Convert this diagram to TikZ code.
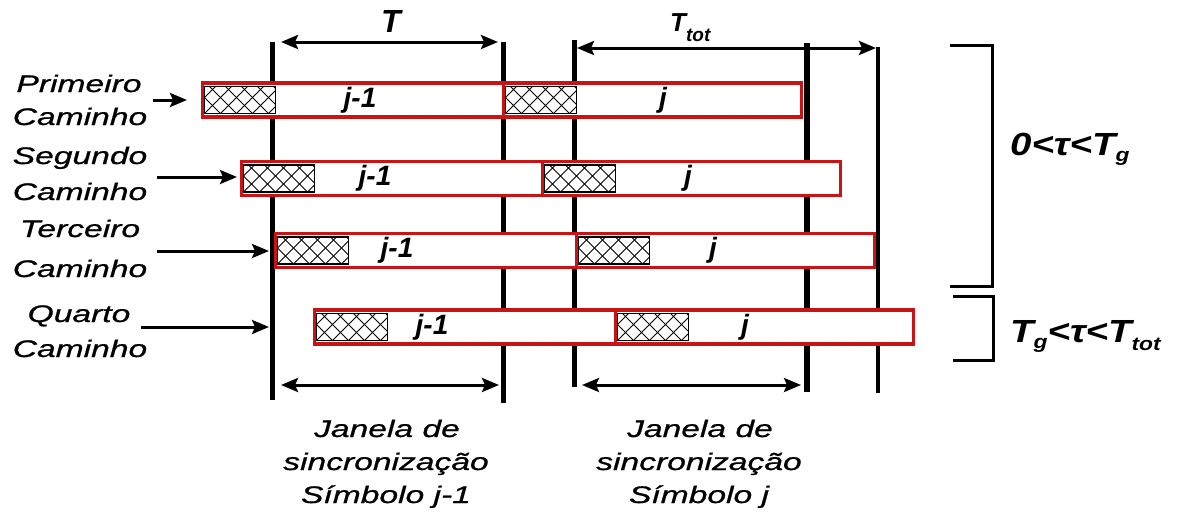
\documentclass[tikz,border=0pt]{standalone}
\usepackage{fontspec}
\setmainfont{Liberation Sans}
\newfontfamily\widesf[FakeStretch=1.4,FakeBold=0.8]{Liberation Sans}
\newfontfamily\labsf[FakeStretch=1.2]{Liberation Sans}
\usetikzlibrary{arrows.meta}
\definecolor{symred}{RGB}{200,20,20}
\newcommand{\subtx}[2][7pt]{\raisebox{-#1}{\fontsize{19}{19}\selectfont #2}}
\tikzset{
  vline/.style={line width=5pt},
  sym/.style={draw=symred, line width=3.2pt, fill=white, minimum height=34pt,
    inner sep=0pt, outer sep=0pt, anchor=west},
  hatchbox/.style={draw=black, line width=1.1pt, minimum width=71pt, minimum height=27pt,
    inner sep=0pt, outer sep=0pt, anchor=west, fill=white,
    path picture={
      \foreach \k in {-3,...,8} {
        \draw[line width=1pt] ([xshift=\k*16pt]path picture bounding box.south west) -- ++(45pt,45pt);
        \draw[line width=1pt] ([xshift=\k*16pt]path picture bounding box.south west) -- ++(-45pt,45pt);
      }}},
  tip/.tip={Stealth[length=17pt,width=14pt,inset=3pt]},
  arr/.style={line width=3pt, -tip},
  darr/.style={line width=3pt, tip-tip},
  brk/.style={line width=3pt},
  lab/.style={font=\widesf\itshape\fontsize{24}{28}\selectfont, anchor=base, inner sep=0pt},
  jlab/.style={font=\bfseries\itshape\fontsize{28}{28}\selectfont, inner sep=0pt},
  tlab/.style={font=\bfseries\itshape, inner sep=0pt, anchor=base west},
  rlab/.style={font=\labsf\bfseries\itshape\fontsize{32}{32}\selectfont, anchor=base west, inner sep=0pt},
}
\begin{document}
\begin{tikzpicture}[x=1pt,y=-1pt]
\useasboundingbox[fill=white] (0,0) rectangle (1178,523);

% vertical reference lines
\draw[vline] (272,42) -- (272,400);
\draw[vline] (503,42) -- (503,403);
\draw[vline] (574,40) -- (574,387);
\draw[vline, line width=6pt] (807,43) -- (807,392);
\draw[vline, line width=3.5pt] (878,47) -- (878,393);

% symbol rows
\foreach \n/\x/\y/\la/\lb in {1/202.5/100/360/663, 2/241.5/178.5/375/688, 3/275.5/250.5/397/713, 4/314.5/327/432/745} {
  \node[sym, minimum width=301pt] (a\n) at (\x,\y) {};
  \node[sym, minimum width=298pt] (b\n) at (a\n.east) {};
  \node[hatchbox] (ha\n) at ([xshift=2pt]a\n.west) {};
  \node[hatchbox] (hb\n) at ([xshift=2pt]b\n.west) {};
  \node[jlab] (la\n) at (\la,\y) {j-1};
  \node[jlab] (lb\n) at (\lb,\y) {j};
}

% dimension arrows
\coordinate (tL) at (281,42);  \coordinate (tR) at (498,42);
\coordinate (ttL) at (577,48); \coordinate (ttR) at (876,48);
\coordinate (bL1) at (281,385); \coordinate (bR1) at (499,385);
\coordinate (bL2) at (582,385); \coordinate (bR2) at (801,385);
\draw[darr] (tL) -- (tR);
\draw[darr] (ttL) -- (ttR);
\draw[darr] (bL1) -- (bR1);
\draw[darr] (bL2) -- (bR2);
\node[tlab, font=\bfseries\itshape\fontsize{32}{32}\selectfont, anchor=base] (Tl) at (391,32) {T};
\node[tlab, font=\bfseries\itshape\fontsize{26}{26}\selectfont] (Ttl) at (670,31) {T\raisebox{-10pt}{\fontsize{19}{19}\selectfont tot}};

% path labels and arrows
\node[lab] (p1) at (79,92) {Primeiro};
\node[lab] (p2) at (80,125) {Caminho};
\node[lab] (s1) at (80,164) {Segundo};
\node[lab] (s2) at (80,200) {Caminho};
\node[lab] (t1) at (80,237) {Terceiro};
\node[lab] (t2) at (80,277) {Caminho};
\node[lab] (q1) at (79,322) {Quarto};
\node[lab] (q2) at (80,357) {Caminho};
\coordinate (e1s) at (153,100); \coordinate (e1e) at (187,100);
\coordinate (e2s) at (157,177); \coordinate (e2e) at (237,177);
\coordinate (e3s) at (157,251); \coordinate (e3e) at (269,251);
\coordinate (e4s) at (141,327); \coordinate (e4e) at (269,327);
\draw[arr] (e1s) -- (e1e);
\draw[arr] (e2s) -- (e2e);
\draw[arr] (e3s) -- (e3e);
\draw[arr] (e4s) -- (e4e);

% brackets and delay ranges
\draw[brk] (950,45) -- (992,45) -- (992,286) -- (950,286);
\draw[brk] (953,296) -- (993,296) -- (993,360) -- (953,360);
\node[rlab] (r1) at (1010,155) {0<τ<T\subtx[6pt]{g}};
\node[rlab] (r2) at (1010,342) {T\subtx[6pt]{g}<τ<T\subtx[8pt]{tot}};

% window captions
\node[lab] (w1a) at (387,437) {Janela de};
\node[lab] (w1b) at (386,470) {sincronização};
\node[lab] (w1c) at (386,503) {Símbolo j-1};
\node[lab] (w2a) at (700,437) {Janela de};
\node[lab] (w2b) at (699,470) {sincronização};
\node[lab] (w2c) at (699,503) {Símbolo j};
\end{tikzpicture}
\end{document}
